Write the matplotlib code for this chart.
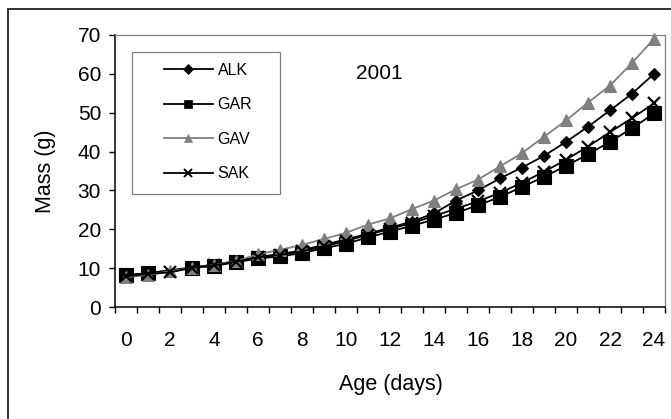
import numpy as np
import matplotlib
matplotlib.use("Agg")
import matplotlib.pyplot as plt
from matplotlib.lines import Line2D
from matplotlib.patches import Rectangle

plt.rcParams['font.family'] = ['Liberation Sans', 'DejaVu Sans']

# Age in days and mean body mass (g) per colony; nan = no weighing that day
days = list(range(25))
alk = [8.2, 8.7, np.nan, 10.2, 10.9, 11.8, 12.9, 13.6, 14.6, 16.0, 17.4, 18.9, 20.4,
       22.0, 24.1, 27.4, 30.0, 33.1, 35.9, 38.9, 42.5, 46.4, 50.6, 54.9, 60.0]
gar = [8.2, 8.7, np.nan, 10.0, 10.6, 11.5, 12.5, 13.0, 13.9, 15.1, 16.3, 17.9, 19.4,
       20.9, 22.5, 24.2, 26.2, 28.3, 30.9, 33.5, 36.3, 39.3, 42.5, 46.0, 49.8]
gav = [7.7, 8.2, 9.2, 10.0, 10.8, 11.8, 13.6, 14.7, 16.0, 17.5, 19.1, 21.2, 22.8,
       25.2, 27.4, 30.3, 32.8, 36.2, 39.6, 43.8, 48.0, 52.6, 57.0, 62.8, 69.0]
sak = [7.9, 8.5, 8.9, 10.1, 10.7, 11.7, 12.8, 13.4, 14.3, 15.6, 17.0, 18.6, 20.1,
       21.6, 23.4, 25.3, 27.2, 29.4, 32.0, 34.8, 37.9, 41.3, 45.0, 48.6, 52.4]
series_names = ['ALK', 'GAR', 'GAV', 'SAK']
year_label = '2001'
x_tick_labels = [str(d) for d in range(0, 25, 2)]

GRAY = '#808080'
styles = {
    'ALK': dict(color='black', marker='D', ms=6.4, legend_ms=4.8),
    'GAR': dict(color='black', marker='s', ms=10.3, legend_ms=5.3),
    'GAV': dict(color=GRAY, marker='^', ms=9.2, legend_ms=6.3),
    'SAK': dict(color='black', marker='x', ms=8.2, legend_ms=6.2),
}
values = {'ALK': alk, 'GAR': gar, 'GAV': gav, 'SAK': sak}

W, H = 671, 419
fig = plt.figure(figsize=(W / 100, H / 100), dpi=100)
ax = fig.add_axes([115 / W, 1 - 307 / H, 550 / W, 272 / H])

x_all = np.array(days, dtype=float)
handles = []
for name in series_names:
    st = styles[name]
    y = np.array(values[name], dtype=float)
    ok = ~np.isnan(y)
    ax.plot(x_all[ok], y[ok], color=st['color'], lw=1.3, marker=st['marker'],
            ms=st['ms'], mfc=st['color'], mec=st['color'],
            mew=1.6 if st['marker'] == 'x' else 0.8, clip_on=False)
    handles.append(Line2D([], [], color=st['color'], lw=1.3, marker=st['marker'],
                          ms=st['legend_ms'], mfc=st['color'], mec=st['color'],
                          mew=1.4 if st['marker'] == 'x' else 0.5))

ax.set_xlim(-0.5, 24.5)
ax.set_ylim(0, 70)
ax.set_yticks(range(0, 71, 10))
ax.tick_params(axis='y', direction='out', length=4, width=1, pad=6, labelsize=15)

# tick marks at category boundaries, labels on every second category
ax.set_xticks(np.arange(-0.5, 25, 1))
ax.set_xticklabels([])
ax.tick_params(axis='x', which='major', direction='out', length=4.5, width=1)
ax.set_xticks(range(0, 25, 2), minor=True)
ax.set_xticklabels(x_tick_labels, minor=True)
ax.tick_params(axis='x', which='minor', length=0, pad=17, labelsize=15)

for side in ('top', 'right'):
    ax.spines[side].set_color(GRAY)
    ax.spines[side].set_linewidth(0.9)
for side in ('left', 'bottom'):
    ax.spines[side].set_color('black')
    ax.spines[side].set_linewidth(1.1)

ax.set_xlabel('Age (days)', fontsize=15.5, va='center')
ax.xaxis.set_label_coords(0.502, -0.285)
ax.set_ylabel('Mass (g)', fontsize=15.5, va='center')
ax.yaxis.set_label_coords(-0.127, 0.5)

ax.text(0.48, 0.86, year_label, transform=ax.transAxes, fontsize=15,
        ha='center', va='center')

# legend box and entries
ax.add_patch(Rectangle((17 / 550, (307 - 194) / 272), 148 / 550, 142 / 272,
                       transform=ax.transAxes, fill=False, ec=GRAY, lw=0.9,
                       zorder=5))
leg = ax.legend(handles, series_names, loc='upper left',
                bbox_to_anchor=((164 - 115) / 550, (307 - 63) / 272),
                frameon=False, handlelength=3.05, handletextpad=0.3,
                labelspacing=1.22, borderpad=0, borderaxespad=0,
                prop={'family': ['Liberation Sans'], 'size': 11.5})

# outer chart border
fig.add_artist(Rectangle((8 / W, -0.2), 1.2, 1 - 9 / H + 0.2, transform=fig.transFigure,
                         fill=False, ec='#303030', lw=1.4))

fig.savefig('out.png', dpi=100)
